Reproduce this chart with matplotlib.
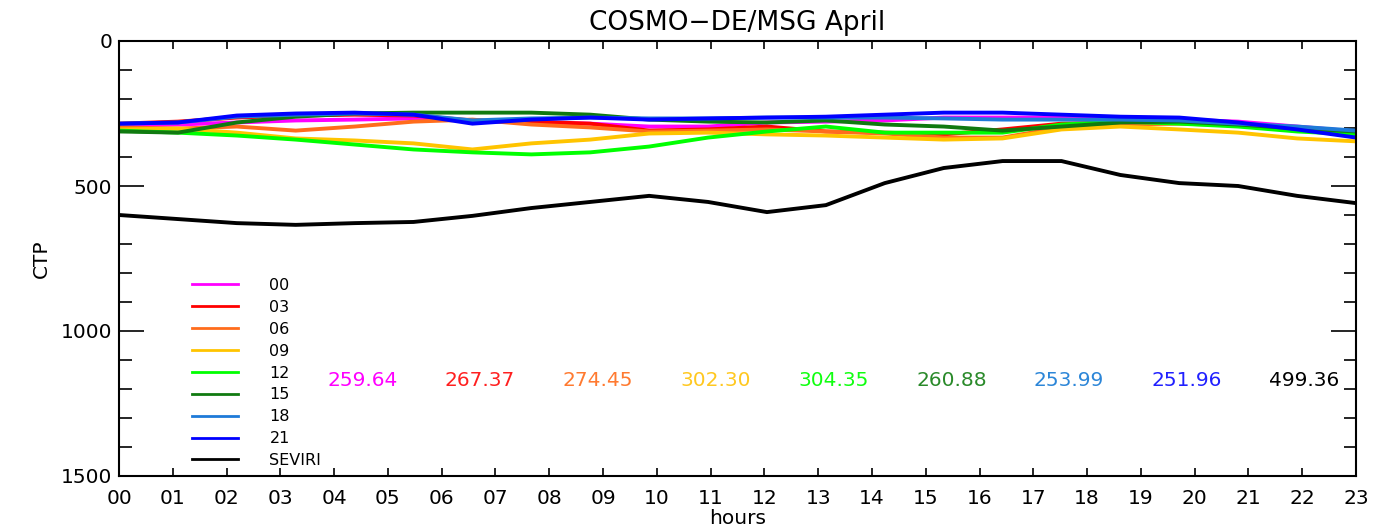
import numpy as np
import matplotlib
matplotlib.use("Agg")
import matplotlib.pyplot as plt
from matplotlib.ticker import MultipleLocator

# 22 samples spread evenly over the day (0..23 h)
n_steps = 22

runs = ["00", "03", "06", "09", "12", "15", "18", "21", "SEVIRI"]
colors = ["#ff00ff", "#ff0000", "#ff6c1c", "#ffc400", "#00ff00",
          "#107a10", "#1e7ad8", "#0000ff", "#000000"]
text_colors = ["#ff00ff", "#ff2020", "#ff7a30", "#ffc820", "#10ff10",
               "#2a8a2a", "#2c86d8", "#2020ff", "#000000"]

# cloud top pressure (hPa) per forecast start time
ctp_00 = [291, 288, 281, 274, 271, 267, 274, 281, 285, 295, 295,
          281, 278, 274, 264, 264, 264, 267, 271, 278, 295, 312]
ctp_03 = [285, 278, 264, 257, 254, 257, 274, 278, 285, 309, 305,
          295, 312, 316, 322, 305, 285, 281, 278, 288, 309, 316]
ctp_06 = [298, 302, 295, 309, 295, 278, 271, 288, 298, 312, 309,
          305, 312, 319, 333, 333, 298, 288, 285, 291, 305, 319]
ctp_09 = [305, 302, 316, 336, 343, 353, 374, 353, 340, 319, 316,
          322, 326, 333, 340, 336, 305, 295, 305, 316, 336, 346]
ctp_12 = [309, 316, 326, 340, 357, 374, 384, 391, 384, 364, 333,
          312, 295, 316, 316, 316, 288, 278, 285, 295, 312, 322]
ctp_15 = [312, 316, 281, 261, 250, 247, 247, 247, 254, 271, 278,
          281, 274, 288, 295, 309, 295, 281, 278, 288, 302, 312]
ctp_18 = [285, 281, 261, 254, 250, 254, 274, 267, 264, 267, 267,
          264, 264, 264, 267, 271, 271, 271, 274, 285, 295, 309]
ctp_21 = [285, 281, 257, 250, 247, 254, 285, 271, 264, 271, 267,
          264, 261, 254, 247, 247, 254, 261, 264, 281, 305, 333]
ctp_seviri = [600, 614, 628, 634, 628, 624, 603, 576, 555, 534, 555,
              590, 566, 490, 438, 414, 414, 462, 490, 500, 534, 559]

means = ["259.64", "267.37", "274.45", "302.30", "304.35",
         "260.88", "253.99", "251.96", "499.36"]

series = [ctp_00, ctp_03, ctp_06, ctp_09, ctp_12, ctp_15, ctp_18, ctp_21, ctp_seviri]

plt.rcParams['font.family'] = ['DejaVu Sans']

fig = plt.figure(figsize=(13.86, 5.32), dpi=100)
ax = fig.add_axes([119/1386, 56/532, 1237/1386, 435/532])

t = np.linspace(0, 23, n_steps)
for name, vals, c in zip(runs, series, colors):
    ax.plot(t, vals, color=c, lw=2.8, label=name, solid_joinstyle='miter')

ax.set_xlim(0, 23)
ax.set_ylim(1500, 0)
ax.set_xticks(range(24))
ax.set_xticklabels(["%02d" % h for h in range(24)])
ax.yaxis.set_major_locator(MultipleLocator(500))
ax.yaxis.set_minor_locator(MultipleLocator(100))

ax.tick_params(axis='x', direction='in', length=6, width=1.2, top=True,
               bottom=True, labelsize=14.5, pad=9)
ax.tick_params(axis='y', which='major', direction='in', length=18, width=1.2,
               left=True, right=True, labelsize=14.5, pad=5)
ax.tick_params(axis='y', which='minor', direction='in', length=9, width=1.2,
               left=True, right=True)
for s in ax.spines.values():
    s.set_linewidth(1.5)

ax.set_title("COSMO\u2212DE/MSG April", fontsize=19, pad=8)
ax.set_xlabel("hours", fontsize=14.5, labelpad=1)
ax.set_ylabel("CTP", fontsize=14.5, labelpad=7)

# monthly mean values along the lower part of the panel
for i, (m, c) in enumerate(zip(means, text_colors)):
    ax.text(3.87 + 2.19 * i, 1170, m, color=c, fontsize=14.5,
            ha='left', va='center')

leg = ax.legend(loc='upper left', bbox_to_anchor=(0.059, 0.455), frameon=False,
                fontsize=11.5, handlelength=2.9, handletextpad=1.95,
                labelspacing=0.43, borderpad=0, borderaxespad=0)
for ln in leg.get_lines():
    ln.set_linewidth(2)

fig.savefig("out.png", dpi=100)
